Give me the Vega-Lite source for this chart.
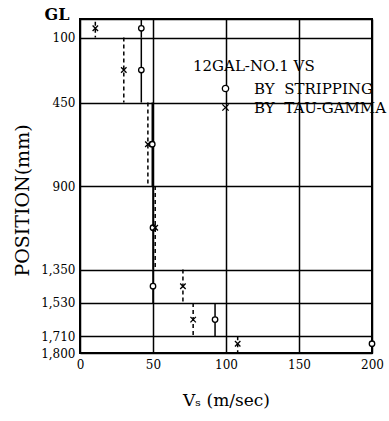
{
  "$schema": "https://vega.github.io/schema/vega-lite/v6.json",
  "width": 292,
  "height": 334,
  "autosize": "none",
  "padding": {"left": 80, "top": 19, "right": 17, "bottom": 68},
  "background": "white",
  "config": {
    "view": {"stroke": "black", "strokeWidth": 2},
    "font": "DejaVu Serif"
  },
  "data": {
    "values": [
      {"series": "BY\u00a0\u00a0STRIPPING", "v": 42, "top": 0, "bottom": 100, "depth": 50},
      {"series": "BY\u00a0\u00a0STRIPPING", "v": 42, "top": 100, "bottom": 450, "depth": 275},
      {"series": "BY\u00a0\u00a0STRIPPING", "v": 49.5, "top": 450, "bottom": 900, "depth": 675},
      {"series": "BY\u00a0\u00a0STRIPPING", "v": 50, "top": 900, "bottom": 1350, "depth": 1125},
      {"series": "BY\u00a0\u00a0STRIPPING", "v": 50, "top": 1350, "bottom": 1530, "depth": 1440},
      {"series": "BY\u00a0\u00a0STRIPPING", "v": 92.5, "top": 1530, "bottom": 1710, "depth": 1620},
      {"series": "BY\u00a0\u00a0STRIPPING", "v": 200, "top": 1710, "bottom": 1800, "depth": 1750},
      {"series": "BY\u00a0\u00a0TAU-GAMMA", "v": 10.5, "top": 15, "bottom": 100, "depth": 50},
      {"series": "BY\u00a0\u00a0TAU-GAMMA", "v": 30, "top": 100, "bottom": 450, "depth": 275},
      {"series": "BY\u00a0\u00a0TAU-GAMMA", "v": 46.5, "top": 450, "bottom": 900, "depth": 675},
      {"series": "BY\u00a0\u00a0TAU-GAMMA", "v": 51.5, "top": 900, "bottom": 1350, "depth": 1125},
      {"series": "BY\u00a0\u00a0TAU-GAMMA", "v": 70.5, "top": 1350, "bottom": 1530, "depth": 1440},
      {"series": "BY\u00a0\u00a0TAU-GAMMA", "v": 77.5, "top": 1530, "bottom": 1710, "depth": 1620},
      {"series": "BY\u00a0\u00a0TAU-GAMMA", "v": 108, "top": 1710, "bottom": 1800, "depth": 1750}
    ]
  },
  "encoding": {
    "x": {
      "field": "v",
      "type": "quantitative",
      "scale": {"domain": [0, 200], "nice": false},
      "axis": {
        "title": "Vₛ (m/sec)",
        "values": [0, 50, 100, 150, 200],
        "grid": true,
        "gridColor": "black",
        "gridWidth": 1.5,
        "gridOpacity": 1,
        "ticks": false,
        "tickSize": 0,
        "domain": false,
        "labelFlush": false,
        "labelOverlap": false,
        "labelPadding": 6,
        "labelFont": "DejaVu Serif",
        "labelFontSize": 12,
        "labelColor": "black",
        "titleFont": "DejaVu Serif",
        "titleFontSize": 17,
        "titleFontWeight": "normal",
        "titleColor": "black",
        "titlePadding": 22
      }
    }
  },
  "layer": [
    {
      "mark": {"type": "rule", "stroke": "black", "strokeWidth": 1.5},
      "encoding": {
        "y": {
          "field": "top",
          "type": "quantitative",
          "scale": {"domain": [0, 1800], "reverse": true, "nice": false, "zero": true},
          "axis": {
            "title": "POSITION(mm)",
            "values": [0, 100, 450, 900, 1350, 1530, 1710, 1800],
            "labelExpr": "datum.value == 0 ? 'GL' : format(datum.value, ',')",
            "grid": true,
            "gridColor": "black",
            "gridWidth": 1.5,
            "gridOpacity": 1,
            "ticks": false,
            "tickSize": 0,
            "domain": false,
            "labelOverlap": false,
            "labelFlush": false,
            "labelPadding": {"condition": {"test": "datum.value == 0", "value": 11}, "value": 5},
            "labelFont": "DejaVu Serif",
            "labelFontSize": {"condition": {"test": "datum.value == 0", "value": 16}, "value": 12},
            "labelFontWeight": {"condition": {"test": "datum.value == 0", "value": "bold"}, "value": "normal"},
            "labelBaseline": {"condition": {"test": "datum.value == 0", "value": "alphabetic"}, "value": "middle"},
            "labelColor": "black",
            "titleFont": "DejaVu Serif",
            "titleFontSize": 19,
            "titleFontWeight": "normal",
            "titleColor": "black",
            "titlePadding": 8,
            "titleY": 181
          }
        },
        "y2": {"field": "bottom"},
        "strokeDash": {
          "condition": {"test": "datum.series == 'BY\u00a0\u00a0TAU-GAMMA'", "value": [4, 3]},
          "value": [1, 0]
        }
      }
    },
    {
      "mark": {"type": "point", "filled": true, "fill": "white", "stroke": "black", "strokeWidth": 1.3, "size": 30, "opacity": 1},
      "encoding": {
        "y": {"field": "depth", "type": "quantitative", "title": "POSITION(mm)"},
        "shape": {
          "field": "series",
          "type": "nominal",
          "scale": {"domain": ["BY\u00a0\u00a0STRIPPING", "BY\u00a0\u00a0TAU-GAMMA"], "range": ["circle", "M-1,-1L1,1M-1,1L1,-1"]},
          "legend": {
            "orient": "none",
            "legendX": 113,
            "legendY": 40,
            "padding": 0,
            "title": "12GAL-NO.1 VS",
            "titleFont": "DejaVu Serif",
            "titleFontSize": 15,
            "titleFontWeight": "normal",
            "titleColor": "black",
            "titlePadding": 7,
            "labelFont": "DejaVu Serif",
            "labelFontSize": 15,
            "labelColor": "black",
            "labelLimit": 300,
            "symbolSize": 40,
            "symbolStrokeWidth": 1.3,
            "symbolOffset": 25,
            "labelOffset": 21,
            "rowPadding": 3
          }
        }
      }
    }
  ]
}
